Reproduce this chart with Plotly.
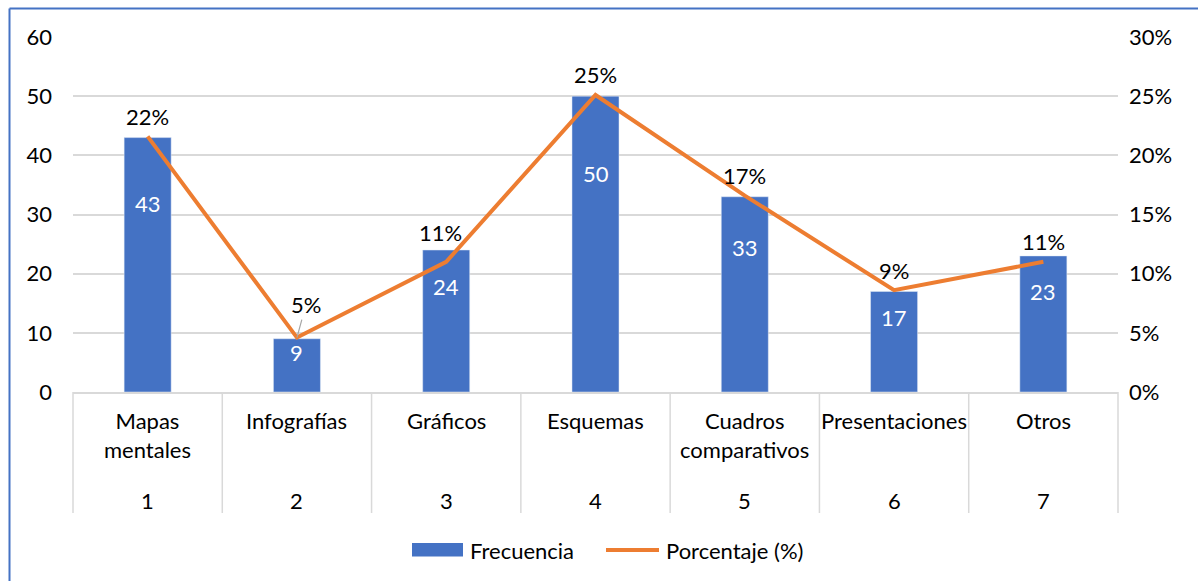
import plotly.graph_objects as go

# Recursos utilizados: frecuencia absoluta y porcentaje
categorias = ["Mapas<br>mentales", "Infografías", "Gráficos", "Esquemas",
              "Cuadros<br>comparativos", "Presentaciones", "Otros"]
numeros = ["1", "2", "3", "4", "5", "6", "7"]
frecuencia = [43, 9, 24, 50, 33, 17, 23]
porcentaje = [0.216, 0.046, 0.11, 0.251, 0.166, 0.086, 0.11]
series = ["Frecuencia", "Porcentaje (%)"]

AZUL = "#4472C4"
NARANJA = "#ED7D31"
GRIS = "#D9D9D9"
FUENTE = "Lato"
TAM = 22

W, H = 1198, 581
ML, MR, MT, MB = 73, 80, 37, 189
PW, PH = W - ML - MR, H - MT - MB

def px_x(p):
    return (p - ML) / PW

def px_y(p):
    return (H - MB - p) / PH

n = len(categorias)
idx = list(range(n))

fig = go.Figure()
fig.add_trace(go.Bar(
    x=idx, y=frecuencia, name=series[0], marker_color=AZUL,
    hoverinfo="skip",
))
fig.add_trace(go.Scatter(
    x=idx, y=porcentaje, name=series[1], yaxis="y2", mode="lines",
    line=dict(color=NARANJA, width=4), hoverinfo="skip",
))

def fuente(color="black"):
    return dict(color=color, size=TAM, family=FUENTE)

anots = []
# etiquetas blancas dentro de las barras
for i, v in enumerate(frecuencia):
    anots.append(dict(x=i, y=v * 0.74, xref="x", yref="y", text=str(v),
                      showarrow=False, font=fuente("white")))

# etiquetas de porcentaje sobre la línea (desplazamiento en px)
desplaz = {2: (-6, 29)}
for i, v in enumerate(porcentaje):
    if i == 1:
        anots.append(dict(x=i, y=v, xref="x", yref="y2", text=f"{v:.0%}",
                          showarrow=True, arrowhead=0, arrowwidth=1.2,
                          arrowcolor="#A6A6A6", ax=9, ay=-33, font=fuente()))
    else:
        dx, dy = desplaz.get(i, (0, 20))
        anots.append(dict(x=i, y=v, xref="x", yref="y2", text=f"{v:.0%}",
                          showarrow=False, xshift=dx, yshift=dy, font=fuente()))

# etiquetas de categoría en dos niveles
for i in idx:
    anots.append(dict(x=i, y=px_y(405), xref="x", yref="paper", yanchor="top",
                      text=categorias[i], showarrow=False, font=fuente()))
    anots.append(dict(x=i, y=px_y(500), xref="x", yref="paper", yanchor="middle",
                      text=numeros[i], showarrow=False, font=fuente()))

shapes = []
# separadores verticales entre categorías
for k in range(n + 1):
    shapes.append(dict(type="line", xref="paper", yref="paper",
                       x0=k / n, x1=k / n, y0=0, y1=px_y(513),
                       line=dict(color=GRIS, width=1.5)))

# leyenda inferior
shapes.append(dict(type="rect", xref="paper", yref="paper",
                   x0=px_x(412), x1=px_x(463), y0=px_y(543), y1=px_y(556.5),
                   fillcolor=AZUL, line=dict(width=0)))
anots.append(dict(x=px_x(468), y=px_y(550), xref="paper", yref="paper",
                  xanchor="left", yanchor="middle", text=series[0],
                  showarrow=False, font=fuente()))
shapes.append(dict(type="line", xref="paper", yref="paper",
                   x0=px_x(606), x1=px_x(659), y0=px_y(550), y1=px_y(550),
                   line=dict(color=NARANJA, width=4)))
anots.append(dict(x=px_x(664), y=px_y(550), xref="paper", yref="paper",
                  xanchor="left", yanchor="middle", text=series[1],
                  showarrow=False, font=fuente()))

# borde del área del gráfico
shapes.append(dict(type="line", xref="paper", yref="paper",
                   x0=px_x(9.5), x1=px_x(9.5), y0=px_y(8.5), y1=px_y(600),
                   line=dict(color=AZUL, width=2)))
shapes.append(dict(type="line", xref="paper", yref="paper",
                   x0=px_x(9.5), x1=px_x(1220), y0=px_y(8.5), y1=px_y(8.5),
                   line=dict(color=AZUL, width=2)))

fig.update_layout(
    width=W, height=H,
    margin=dict(l=ML, r=MR, t=MT, b=MB, pad=0),
    paper_bgcolor="white", plot_bgcolor="white",
    font=dict(family=FUENTE, size=TAM, color="black"),
    bargap=0.685,
    showlegend=False,
    xaxis=dict(range=[-0.5, n - 0.5], showticklabels=False, showgrid=False,
               showline=True, linecolor=GRIS, linewidth=1.5, zeroline=False,
               fixedrange=True),
    yaxis=dict(range=[0, 60], dtick=10, showgrid=True, gridcolor=GRIS, gridwidth=1.5,
               zeroline=False, ticks="", ticklabelstandoff=20,
               tickfont=fuente()),
    yaxis2=dict(range=[0, 0.30], dtick=0.05, tickformat=".0%", overlaying="y",
                side="right", showgrid=False, zeroline=False, ticks="",
                ticklabelstandoff=10, tickfont=fuente()),
    annotations=anots,
    shapes=shapes,
)

fig.write_html("out.html")
